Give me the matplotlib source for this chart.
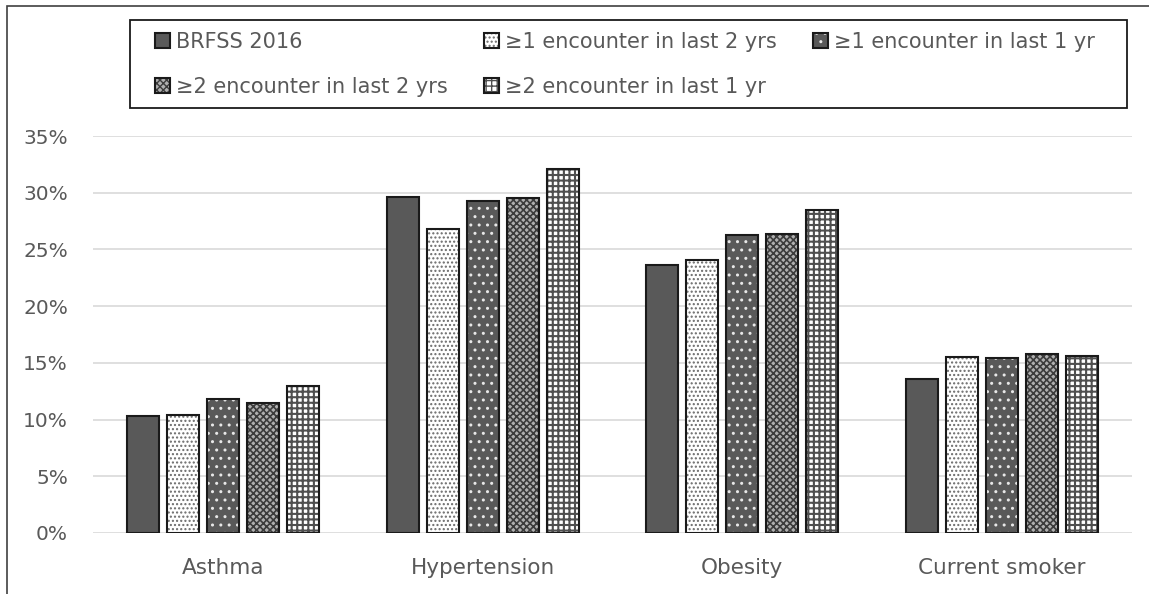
import matplotlib
matplotlib.use("Agg")
import matplotlib.pyplot as plt
import numpy as np
from matplotlib.patches import Rectangle
from matplotlib.ticker import PercentFormatter

categories = ["Asthma", "Hypertension", "Obesity", "Current smoker"]
series_names = ["BRFSS 2016", "≥1 encounter in last 2 yrs", "≥1 encounter in last 1 yr",
                "≥2 encounter in last 2 yrs", "≥2 encounter in last 1 yr"]
brfss_2016 = [10.3, 29.6, 23.6, 13.6]
ge1_last2 = [10.4, 26.8, 24.1, 15.5]
ge1_last1 = [11.8, 29.3, 26.3, 15.4]
ge2_last2 = [11.5, 29.5, 26.4, 15.8]
ge2_last1 = [13.0, 32.1, 28.5, 15.6]
series_values = [brfss_2016, ge1_last2, ge1_last1, ge2_last2, ge2_last1]
yticks = [0, 5, 10, 15, 20, 25, 30, 35]

# style per series: (facecolor, hatch, hatchcolor, hatch linewidth)
styles = [
    ("#595959", None, "#595959", 1.0),
    ("white", "....", "#6a6a6a", 1.0),
    ("#595959", "..", "#e8e8e8", 1.0),
    ("#b0b0b0", "xxxxx", "#3c3c3c", 1.2),
    ("white", "+++", "#4f4f4f", 1.5),
]

plt.rcParams['font.family'] = ['DejaVu Sans']
text_color = "#595959"

fig = plt.figure(figsize=(11.49, 5.94), dpi=100)
ax = fig.add_axes([93/1149, (594-533)/594, (1132-93)/1149, (533-136)/594])

x = np.arange(len(categories))
width = 0.123
step = 0.154
handles = []
for i, (vals, (fc, hatch, hc, hlw)) in enumerate(zip(series_values, styles)):
    pos = x + (i - 2) * step
    with plt.rc_context({'hatch.linewidth': hlw}):
        b1 = ax.bar(pos, vals, width, color=fc, edgecolor=hc, linewidth=0, hatch=hatch, zorder=2)
        for p in b1.patches:
            if hasattr(p, "set_hatch_linewidth"):
                p.set_hatch_linewidth(hlw)
    b2 = ax.bar(pos, vals, width, fill=False, edgecolor="#1a1a1a", linewidth=1.5, zorder=3)
    handles.append((b1.patches[0], b2.patches[0]))

ax.set_xlim(-0.5, 3.5)
ax.set_ylim(0, 35)
ax.set_yticks(yticks)
ax.yaxis.set_major_formatter(PercentFormatter(decimals=0))
ax.set_xticks(x)
ax.set_xticklabels(categories)
ax.grid(axis='y', color="#d9d9d9", linewidth=1.2, zorder=0)
ax.set_axisbelow(True)
for s in ax.spines.values():
    s.set_visible(False)
ax.tick_params(axis='both', length=0, colors=text_color)
ax.tick_params(axis='y', pad=18, labelsize=14.5)
ax.tick_params(axis='x', pad=18, labelsize=15.5)

# legend filled row-wise like the reference
order = [0, 3, 1, 4, 2]
leg = fig.legend([handles[k] for k in order], [series_names[k] for k in order], ncol=3,
                 loc='upper left', bbox_to_anchor=(155/1149, 1 - 32/594),
                 frameon=False, fontsize=15, labelcolor=text_color,
                 handlelength=0.7, handleheight=0.7, handletextpad=0.3,
                 borderaxespad=0, borderpad=0, labelspacing=1.2, columnspacing=1.75)

fig.patches.append(Rectangle((130/1149, 1 - 108/594), (1127-130)/1149, 88/594,
                             transform=fig.transFigure, fill=False,
                             edgecolor="#1a1a1a", linewidth=1.3))
fig.patches.append(Rectangle((7/1149, -0.1), 1.2, 1 - 6/594 + 0.1, transform=fig.transFigure,
                             fill=False, edgecolor="#404040", linewidth=1.2))

fig.savefig("out.png", dpi=100)
